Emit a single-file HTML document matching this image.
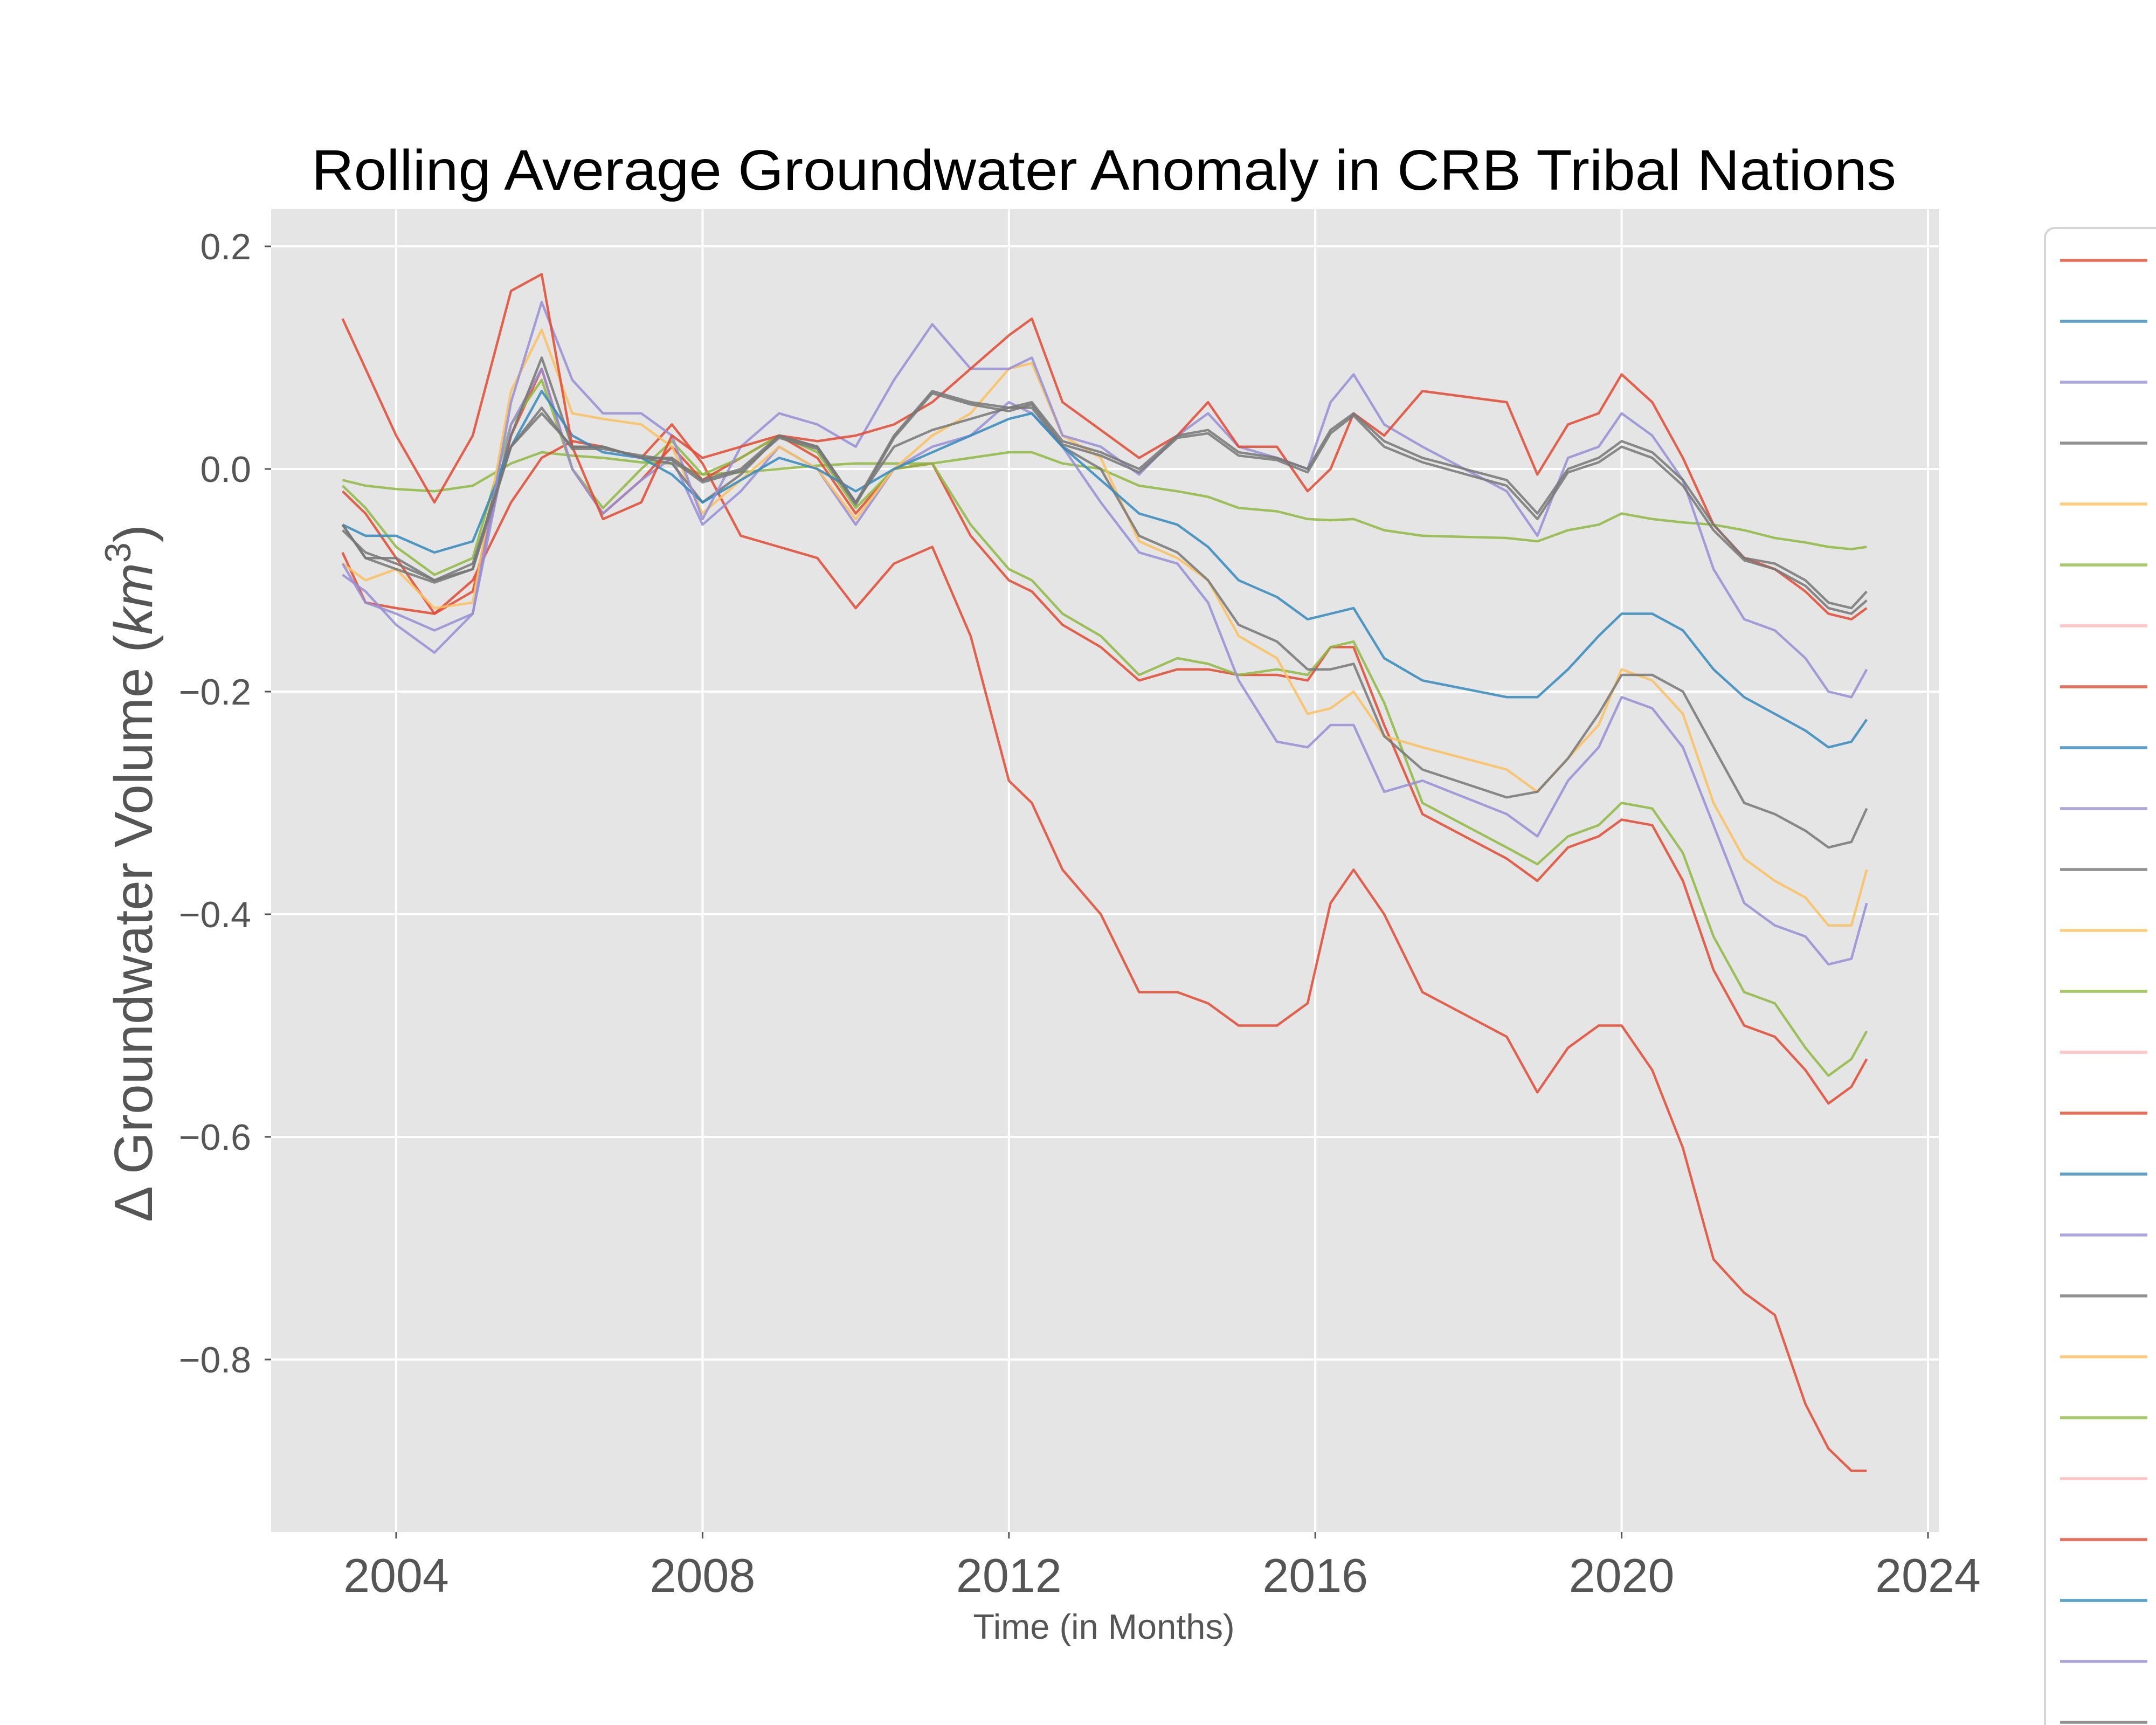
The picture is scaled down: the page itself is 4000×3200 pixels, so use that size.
<!DOCTYPE html>
<html><head><meta charset="utf-8"><style>
html,body{margin:0;padding:0;background:#fff;}
svg{display:block;font-family:"Liberation Sans",sans-serif;}
</style></head><body>
<svg id="chart" width="4000" height="3200" viewBox="0 0 4000 3200" xmlns="http://www.w3.org/2000/svg">
<rect x="0" y="0" width="4000" height="3200" fill="#fff"/>
<text x="2048" y="352" text-anchor="middle" font-size="106" fill="#000" textLength="2940" lengthAdjust="spacingAndGlyphs">Rolling Average Groundwater Anomaly in CRB Tribal Nations</text>
<rect x="503" y="388" width="3094" height="2454" fill="#E5E5E5"/>
<g id="grid"></g>
<g id="series"></g>
<g id="ticks"></g>
<text x="2048" y="3040" text-anchor="middle" font-size="65" fill="#555">Time (in Months)</text>
<text transform="translate(282,1620) rotate(-90)" text-anchor="middle" font-size="100" fill="#555">Δ Groundwater Volume (<tspan font-style="italic">km</tspan><tspan font-size="68" dy="-40">3</tspan><tspan dy="40">)</tspan></text>
<g id="legend">
<rect x="3794" y="423" width="260" height="2850" rx="18" fill="#fff" stroke="#d6d6d6" stroke-width="4"/>
</g>
</svg>
<script>
const times = [2003.3,2003.6,2004.0,2004.5,2005.0,2005.5,2005.9,2006.3,2006.7,2007.2,2007.6,2008.0,2008.5,2009.0,2009.5,2010.0,2010.5,2011.0,2011.5,2012.0,2012.3,2012.7,2013.2,2013.7,2014.2,2014.6,2015.0,2015.5,2015.9,2016.2,2016.5,2016.9,2017.4,2018.5,2018.9,2019.3,2019.7,2020.0,2020.4,2020.8,2021.2,2021.6,2022.0,2022.4,2022.7,2023.0,2023.2];
const redDecline = [-0.075,-0.12,-0.125,-0.13,-0.10,-0.03,0.01,0.025,0.02,0.01,0.04,0.005,-0.06,-0.07,-0.08,-0.125,-0.085,-0.07,-0.15,-0.28,-0.30,-0.36,-0.40,-0.47,-0.47,-0.48,-0.50,-0.50,-0.48,-0.39,-0.36,-0.40,-0.47,-0.51,-0.56,-0.52,-0.50,-0.50,-0.54,-0.61,-0.71,-0.74,-0.76,-0.84,-0.88,-0.90,-0.90];
const redHigh = [0.135,0.09,0.03,-0.03,0.03,0.16,0.175,0.02,-0.045,-0.03,0.03,0.01,0.02,0.03,0.025,0.03,0.04,0.06,0.09,0.12,0.135,0.06,0.035,0.01,0.03,0.06,0.02,0.02,-0.02,0.0,0.05,0.03,0.07,0.06,-0.005,0.04,0.05,0.085,0.06,0.01,-0.05,-0.08,-0.09,-0.11,-0.13,-0.135,-0.125];
const redMid = [-0.02,-0.04,-0.08,-0.13,-0.11,0.03,0.09,0.0,-0.04,-0.01,0.02,-0.01,0.01,0.03,0.01,-0.04,0.0,0.005,-0.06,-0.10,-0.11,-0.14,-0.16,-0.19,-0.18,-0.18,-0.185,-0.185,-0.19,-0.16,-0.16,-0.23,-0.31,-0.35,-0.37,-0.34,-0.33,-0.315,-0.32,-0.37,-0.45,-0.50,-0.51,-0.54,-0.57,-0.555,-0.53];
const greenMid = [-0.015,-0.035,-0.07,-0.095,-0.08,0.04,0.08,0.0,-0.035,0.0,0.025,-0.005,0.01,0.03,0.015,-0.035,0.0,0.005,-0.05,-0.09,-0.10,-0.13,-0.15,-0.185,-0.17,-0.175,-0.185,-0.18,-0.185,-0.16,-0.155,-0.21,-0.30,-0.34,-0.355,-0.33,-0.32,-0.30,-0.305,-0.345,-0.42,-0.47,-0.48,-0.52,-0.545,-0.53,-0.505];
const greenFlat = [-0.01,-0.015,-0.018,-0.02,-0.015,0.005,0.015,0.012,0.01,0.006,0.005,-0.005,-0.003,0.0,0.003,0.005,0.005,0.005,0.01,0.015,0.015,0.005,0.0,-0.015,-0.02,-0.025,-0.035,-0.038,-0.045,-0.046,-0.045,-0.055,-0.06,-0.062,-0.065,-0.055,-0.05,-0.04,-0.045,-0.048,-0.05,-0.055,-0.062,-0.066,-0.07,-0.072,-0.07];
const blue = [-0.05,-0.06,-0.06,-0.075,-0.065,0.02,0.07,0.03,0.015,0.01,-0.005,-0.03,-0.01,0.01,0.0,-0.02,0.0,0.015,0.03,0.045,0.05,0.02,-0.01,-0.04,-0.05,-0.07,-0.10,-0.115,-0.135,-0.13,-0.125,-0.17,-0.19,-0.205,-0.205,-0.18,-0.15,-0.13,-0.13,-0.145,-0.18,-0.205,-0.22,-0.235,-0.25,-0.245,-0.225];
const purpleHigh = [-0.085,-0.12,-0.13,-0.145,-0.13,0.06,0.15,0.08,0.05,0.05,0.03,-0.045,0.02,0.05,0.04,0.02,0.08,0.13,0.09,0.09,0.10,0.03,0.02,-0.005,0.03,0.05,0.02,0.01,0.0,0.06,0.085,0.04,0.02,-0.02,-0.06,0.01,0.02,0.05,0.03,-0.01,-0.09,-0.135,-0.145,-0.17,-0.20,-0.205,-0.18];
const purpleLow = [-0.095,-0.11,-0.14,-0.165,-0.13,0.04,0.09,0.0,-0.04,-0.01,0.01,-0.05,-0.02,0.02,0.0,-0.05,0.0,0.02,0.03,0.06,0.05,0.02,-0.03,-0.075,-0.085,-0.12,-0.19,-0.245,-0.25,-0.23,-0.23,-0.29,-0.28,-0.31,-0.33,-0.28,-0.25,-0.205,-0.215,-0.25,-0.32,-0.39,-0.41,-0.42,-0.445,-0.44,-0.39];
const yellow = [-0.085,-0.10,-0.09,-0.125,-0.12,0.07,0.125,0.05,0.045,0.04,0.02,-0.04,-0.01,0.02,0.0,-0.045,0.0,0.03,0.05,0.09,0.095,0.03,0.01,-0.065,-0.08,-0.10,-0.15,-0.17,-0.22,-0.215,-0.20,-0.24,-0.25,-0.27,-0.29,-0.26,-0.23,-0.18,-0.19,-0.22,-0.30,-0.35,-0.37,-0.385,-0.41,-0.41,-0.36];
const grayLow = [-0.05,-0.08,-0.08,-0.10,-0.09,0.03,0.10,0.02,0.02,0.01,0.005,-0.03,-0.005,0.03,0.02,-0.03,0.02,0.035,0.045,0.055,0.055,0.02,0.0,-0.06,-0.075,-0.10,-0.14,-0.155,-0.18,-0.18,-0.175,-0.24,-0.27,-0.295,-0.29,-0.26,-0.22,-0.185,-0.185,-0.20,-0.25,-0.30,-0.31,-0.325,-0.34,-0.335,-0.305];
const grayHigh = [-0.055,-0.075,-0.085,-0.10,-0.085,0.02,0.05,0.02,0.02,0.01,0.01,-0.01,0.0,0.03,0.02,-0.03,0.03,0.07,0.06,0.055,0.06,0.025,0.015,0.0,0.03,0.035,0.015,0.01,0.0,0.035,0.05,0.025,0.01,-0.01,-0.04,0.0,0.01,0.025,0.015,-0.01,-0.05,-0.08,-0.085,-0.10,-0.12,-0.125,-0.11];
const grayHigh2 = [-0.05,-0.08,-0.09,-0.102,-0.09,0.02,0.055,0.018,0.018,0.012,0.008,-0.012,-0.002,0.028,0.018,-0.032,0.028,0.068,0.058,0.052,0.058,0.022,0.012,-0.003,0.028,0.032,0.012,0.008,-0.003,0.032,0.048,0.02,0.006,-0.015,-0.045,-0.003,0.006,0.02,0.01,-0.015,-0.055,-0.082,-0.09,-0.105,-0.125,-0.13,-0.118];
const yTicks = [0.2,0.0,-0.2,-0.4,-0.6,-0.8];
const xTicks = [2004,2008,2012,2016,2020,2024];
const legendColors = ["#E24A33","#348ABD","#988ED5","#777777","#FBC15E","#8EBA42","#FFB5B8","#E24A33","#348ABD","#988ED5","#777777","#FBC15E","#8EBA42","#FFB5B8","#E24A33","#348ABD","#988ED5","#777777","#FBC15E","#8EBA42","#FFB5B8","#E24A33","#348ABD","#988ED5","#777777"];

const NS="http://www.w3.org/2000/svg";
const X0=503,X1=3597,Y0=388,Y1=2842;
function xs(t){return 735+(t-2004)*142.1;}
function ys(v){return 870-v*2065;}
function mk(tag,attrs,parent){const e=document.createElementNS(NS,tag);for(const k in attrs)e.setAttribute(k,attrs[k]);parent.appendChild(e);return e;}
const grid=document.getElementById('grid'),ticks=document.getElementById('ticks'),ser=document.getElementById('series'),leg=document.getElementById('legend');
yTicks.forEach(v=>{
  const l=mk('line',{x1:X0,x2:X1,y1:ys(v),y2:ys(v),stroke:'#fff','stroke-width':4},grid);
  
  
  const tk=mk('line',{x1:X0-12,x2:X0,y1:ys(v),y2:ys(v),stroke:'#555','stroke-width':3},ticks);
  
  
  const t=mk('text',{x:466,y:ys(v)+24,'text-anchor':'end','font-size':68,fill:'#555'},ticks);
  t.textContent=(v<0?'\u2212':'')+Math.abs(v).toFixed(1);
  
  
});
xTicks.forEach(v=>{
  const l=mk('line',{x1:xs(v),x2:xs(v),y1:Y0,y2:Y1,stroke:'#fff','stroke-width':4},grid);
  
  
  const tk=mk('line',{x1:xs(v),x2:xs(v),y1:Y1,y2:Y1+12,stroke:'#555','stroke-width':3},ticks);
  
  
  const t=mk('text',{x:xs(v),y:2953,'text-anchor':'middle','font-size':88,fill:'#555'},ticks);
  t.textContent=String(v);
  
  
});
const seriesList=[
 [greenFlat,'#8EBA42','series-green-flat'],
 [redDecline,'#E24A33','series-red-decline'],
 [redMid,'#E24A33','series-red-mid'],
 [greenMid,'#8EBA42','series-green-mid'],
 [purpleLow,'#988ED5','series-purple-low'],
 [yellow,'#FBC15E','series-yellow'],
 [grayLow,'#777777','series-gray-low'],
 [blue,'#348ABD','series-blue'],
 [purpleHigh,'#988ED5','series-purple-high'],
 [redHigh,'#E24A33','series-red-high'],
 [grayHigh2,'#777777','series-gray-high-2'],
 [grayHigh,'#777777','series-gray-high']
];
seriesList.forEach(s=>{
  const d=s[0].map((v,i)=>(i?'L':'M')+xs(times[i]).toFixed(1)+','+ys(v).toFixed(1)).join(' ');
  const p=mk('path',{d:d,fill:'none',stroke:s[1],'stroke-width':4.5,'stroke-opacity':0.85,'stroke-linejoin':'round'},ser);
  
  
});
legendColors.forEach((c,i)=>{
  const y=483+i*113;
  const l=mk('line',{x1:3822,x2:3984,y1:y,y2:y,stroke:c,'stroke-width':5.5,'stroke-opacity':0.8},leg);
  
  
});
</script>
</body></html>
